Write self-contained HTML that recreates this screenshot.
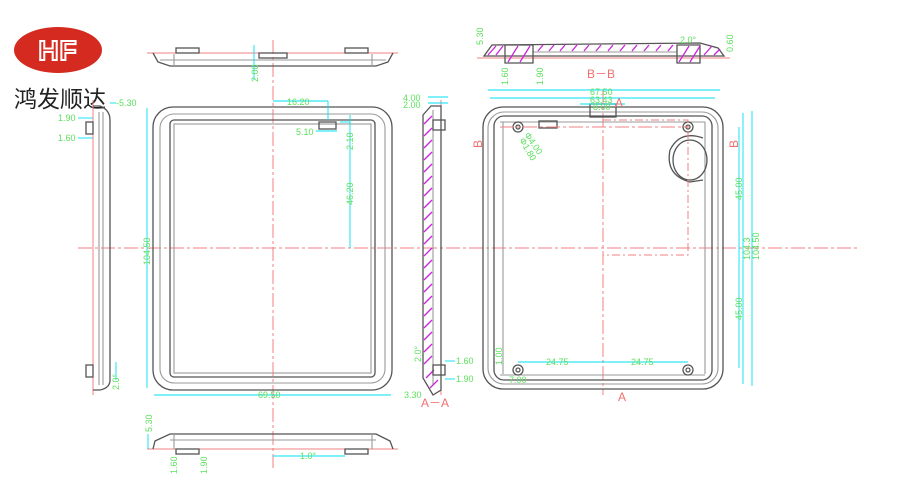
<!DOCTYPE html>
<html><head><meta charset="utf-8"><style>
html,body{margin:0;padding:0;background:#fff;}
svg{display:block;}
.o{fill:none;stroke:#555;stroke-width:1.3}
.l{fill:none;stroke:#999;stroke-width:1.1}
.r{fill:none;stroke:#f08080;stroke-width:1}
.rd{fill:none;stroke:#f08080;stroke-width:1;stroke-dasharray:14 3 3 3}
.c{fill:none;stroke:#00e0f0;stroke-width:0.9}
.g{fill:#5ee05e;font-family:"Liberation Sans",sans-serif;font-size:9px}
.rt{fill:#f07070;font-family:"Liberation Sans",sans-serif;font-size:12px}
.h{stroke:#cc22dd;stroke-width:1.3}
</style></head><body>
<svg width="900" height="500" viewBox="0 0 900 500" xmlns="http://www.w3.org/2000/svg">
<rect width="900" height="500" fill="#fff"/>
<!-- logo -->
<ellipse cx="58" cy="50" rx="44" ry="23" fill="#d42a1f"/>
<text x="58" y="60" text-anchor="middle" font-family="Liberation Sans,sans-serif" font-size="28" font-weight="bold" fill="none" stroke="#fff" stroke-width="2" letter-spacing="1">HF</text>
<text x="14" y="107" font-family="Liberation Sans,'Noto Sans CJK SC',sans-serif" font-size="23" fill="#222">鸿发顺达</text>

<!-- centre lines -->
<line x1="78" y1="248" x2="860" y2="248" class="rd"/>
<line x1="273" y1="40" x2="273" y2="470" class="rd"/>
<line x1="603" y1="90" x2="603" y2="395" class="rd"/>

<!-- top view -->
<line x1="147" y1="53" x2="398" y2="53" class="r"/>
<path d="M153 53 L158 62 L170 66 L376 66 L388 62 L393 53" class="o"/>
<line x1="174" y1="54" x2="174" y2="66" class="l"/><line x1="372" y1="54" x2="372" y2="66" class="l"/>
<line x1="160" y1="60" x2="386" y2="60" class="l"/>
<rect x="176" y="48" width="23" height="5" class="o"/><rect x="345" y="48" width="23" height="5" class="o"/>
<rect x="259" y="53" width="28" height="5" class="o"/>
<line x1="254" y1="45" x2="254" y2="80" class="c"/>
<text class="g" transform="translate(258,82) rotate(-90)">2.00</text>

<!-- left side view -->
<line x1="93" y1="100" x2="93" y2="395" class="r"/>
<path d="M93 106 L100 106 Q110 110 110 120 L110 380 Q110 388 100 390 L93 390" class="o"/>
<line x1="99" y1="112" x2="99" y2="385" class="l"/><line x1="103" y1="112" x2="103" y2="385" class="l"/>
<rect x="86" y="122" width="7" height="12" class="o"/><rect x="86" y="365" width="7" height="12" class="o"/>
<line x1="110" y1="103" x2="116" y2="103" class="c"/>
<text class="g" x="116" y="106">-5.30</text>
<text class="g" x="58" y="121">1.90</text><line x1="78" y1="118" x2="93" y2="118" class="c"/>
<text class="g" x="58" y="141">1.60</text><line x1="78" y1="138" x2="93" y2="138" class="c"/>
<line x1="116" y1="362" x2="116" y2="380" class="c"/>
<text class="g" transform="translate(119,390) rotate(-90)">2.0°</text>

<!-- front view -->
<rect x="153" y="107" width="239" height="283" rx="20" class="o"/>
<rect x="160" y="114" width="225" height="269" rx="14" class="l"/>
<rect x="170" y="120" width="205" height="257" rx="4" class="o"/>
<rect x="174" y="124" width="197" height="249" class="l"/>
<line x1="147" y1="108" x2="147" y2="388" class="c"/>
<text class="g" transform="translate(150,265) rotate(-90)">104.50</text>
<line x1="154" y1="395" x2="391" y2="395" class="c"/>
<text class="g" x="258" y="398">69.50</text>
<line x1="273" y1="101" x2="328" y2="101" class="c"/><line x1="328" y1="101" x2="328" y2="120" class="c"/>
<text class="g" x="287" y="105">16.20</text>
<rect x="319" y="122" width="17" height="7" class="o"/>
<line x1="316" y1="131" x2="337" y2="131" class="c"/>
<text class="g" x="296" y="135">5.10</text>
<line x1="340" y1="122" x2="350" y2="122" class="c"/>
<line x1="350" y1="115" x2="350" y2="248" class="c"/>
<text class="g" transform="translate(353,150) rotate(-90)">2.10</text>
<text class="g" transform="translate(353,205) rotate(-90)">46.20</text>

<!-- A-A section -->
<line x1="441" y1="100" x2="441" y2="395" class="r"/>
<path d="M423 115 L431 106 L441 106 L441 390 L433 395 L423 378 Z" class="o"/>
<line x1="433" y1="110" x2="433" y2="385" class="l"/>
<g class="h">
<line x1="424" y1="124" x2="432" y2="116"/><line x1="424" y1="136" x2="432" y2="128"/><line x1="424" y1="148" x2="432" y2="140"/><line x1="424" y1="160" x2="432" y2="152"/><line x1="424" y1="172" x2="432" y2="164"/><line x1="424" y1="184" x2="432" y2="176"/><line x1="424" y1="196" x2="432" y2="188"/><line x1="424" y1="208" x2="432" y2="200"/><line x1="424" y1="220" x2="432" y2="212"/><line x1="424" y1="232" x2="432" y2="224"/><line x1="424" y1="244" x2="432" y2="236"/><line x1="424" y1="256" x2="432" y2="248"/><line x1="424" y1="268" x2="432" y2="260"/><line x1="424" y1="280" x2="432" y2="272"/><line x1="424" y1="292" x2="432" y2="284"/><line x1="424" y1="304" x2="432" y2="296"/><line x1="424" y1="316" x2="432" y2="308"/><line x1="424" y1="328" x2="432" y2="320"/><line x1="424" y1="340" x2="432" y2="332"/><line x1="424" y1="352" x2="432" y2="344"/><line x1="424" y1="364" x2="432" y2="356"/><line x1="426" y1="378" x2="434" y2="370"/><line x1="430" y1="388" x2="438" y2="380"/>
</g>
<rect x="433" y="120" width="12" height="10" class="o"/><rect x="433" y="365" width="12" height="10" class="o"/>
<line x1="428" y1="97" x2="448" y2="97" class="c"/><line x1="428" y1="103" x2="448" y2="103" class="c"/>
<text class="g" x="403" y="101">4.00</text><text class="g" x="403" y="108">2.00</text>
<text class="g" transform="translate(421,362) rotate(-90)">2.0°</text>
<line x1="445" y1="361" x2="455" y2="361" class="c"/><text class="g" x="456" y="364">1.60</text>
<line x1="445" y1="379" x2="455" y2="379" class="c"/><text class="g" x="456" y="382">1.90</text>
<text class="g" x="404" y="398">3.30</text>
<text class="rt" x="421" y="407">A－A</text>

<!-- bottom view -->
<line x1="147" y1="449" x2="398" y2="449" class="r"/>
<path d="M153 449 L155 441 L170 434 L376 434 L390 441 L393 449" class="o"/>
<line x1="174" y1="435" x2="174" y2="449" class="l"/><line x1="372" y1="435" x2="372" y2="449" class="l"/>
<line x1="170" y1="440" x2="376" y2="440" class="l"/>
<rect x="176" y="449" width="23" height="5" class="o"/><rect x="345" y="449" width="23" height="5" class="o"/>
<line x1="148" y1="434" x2="148" y2="449" class="c"/>
<text class="g" transform="translate(152,432) rotate(-90)">5.30</text>
<text class="g" transform="translate(177,474) rotate(-90)">1.60</text>
<text class="g" transform="translate(207,474) rotate(-90)">1.90</text>
<line x1="273" y1="456" x2="345" y2="456" class="c"/><text class="g" x="300" y="459">1.0°</text>

<!-- B-B section -->
<line x1="477" y1="58" x2="730" y2="58" class="r"/>
<path d="M484 56 L492 45 L700 43 L718 48 L724 56 L484 56 Z" class="o"/>
<line x1="533" y1="52" x2="677" y2="52" class="l"/>
<path d="M505 45 L533 45 L533 63 L505 63 Z M677 45 L700 45 L700 63 L677 63 Z" class="o"/>
<g class="h">
<line x1="488" y1="55" x2="496" y2="46"/><line x1="496" y1="55" x2="503" y2="46"/><line x1="508" y1="62" x2="518" y2="46"/><line x1="520" y1="62" x2="530" y2="46"/>
<line x1="538" y1="51" x2="543" y2="45"/><line x1="549" y1="51" x2="554" y2="45"/><line x1="560" y1="51" x2="565" y2="45"/><line x1="572" y1="51" x2="577" y2="45"/><line x1="584" y1="51" x2="589" y2="45"/><line x1="596" y1="51" x2="601" y2="45"/><line x1="608" y1="51" x2="613" y2="45"/><line x1="620" y1="51" x2="625" y2="45"/><line x1="632" y1="51" x2="637" y2="45"/><line x1="644" y1="51" x2="649" y2="45"/><line x1="656" y1="51" x2="661" y2="45"/><line x1="668" y1="51" x2="673" y2="45"/>
<line x1="679" y1="62" x2="689" y2="46"/><line x1="690" y1="62" x2="700" y2="46"/><line x1="704" y1="55" x2="712" y2="46"/><line x1="714" y1="55" x2="720" y2="49"/>
</g>
<text class="g" transform="translate(483,45) rotate(-90)">5.30</text>
<text class="g" transform="translate(508,85) rotate(-90)">1.60</text>
<text class="g" transform="translate(543,85) rotate(-90)">1.90</text>
<text class="g" x="680" y="43">2.0°</text>
<text class="g" transform="translate(733,52) rotate(-90)">0.60</text>
<text class="rt" x="587" y="78">B－B</text>

<!-- right front view -->
<rect x="483" y="107" width="240" height="282" rx="20" class="o"/>
<rect x="488" y="112" width="230" height="272" rx="16" class="l"/>
<rect x="494" y="116" width="218" height="264" rx="10" class="o"/>
<line x1="503" y1="122" x2="503" y2="374" class="l"/><line x1="705" y1="122" x2="705" y2="374" class="l"/>
<line x1="500" y1="122" x2="705" y2="122" class="l"/><line x1="500" y1="375" x2="705" y2="375" class="l"/>
<rect x="590" y="104" width="26" height="13" class="o"/>
<rect x="539" y="121" width="18" height="7" class="o"/>
<circle cx="518" cy="127" r="5" class="o"/><circle cx="518" cy="127" r="2" class="o"/>
<circle cx="688" cy="127" r="5" class="o"/><circle cx="688" cy="127" r="2" class="o"/>
<circle cx="518" cy="370" r="5" class="o"/><circle cx="518" cy="370" r="2" class="o"/>
<circle cx="688" cy="370" r="5" class="o"/><circle cx="688" cy="370" r="2" class="o"/>
<path d="M703 138 Q680 130 670 150 Q665 175 690 182 L703 180" class="o"/>
<ellipse cx="690" cy="160" rx="17" ry="20" class="o"/>
<path d="M500 127 L688 127" class="rd"/>
<path d="M603 120 L688 120 L688 255 L603 255" class="r" stroke-dasharray="8 3 2 3"/>
<line x1="488" y1="90" x2="720" y2="90" class="c"/><text class="g" x="590" y="95">67.50</text>
<line x1="490" y1="98" x2="715" y2="98" class="c"/><text class="g" x="590" y="103">63.43</text>
<line x1="580" y1="104" x2="625" y2="104" class="c"/><text class="g" x="593" y="110">8.00</text>
<text class="rt" x="615" y="107">A</text>
<text class="rt" x="618" y="401">A</text>
<text class="rt" transform="translate(482,148) rotate(-90)">B</text>
<text class="rt" transform="translate(738,148) rotate(-90)">B</text>
<text class="g" transform="translate(524,135) rotate(55)">Φ4.00</text>
<text class="g" transform="translate(519,140) rotate(60)">Φ1.80</text>
<line x1="739" y1="127" x2="739" y2="368" class="c"/>
<line x1="743" y1="113" x2="743" y2="384" class="c"/>
<line x1="752" y1="111" x2="752" y2="386" class="c"/>
<text class="g" transform="translate(742,200) rotate(-90)">45.00</text>
<text class="g" transform="translate(742,320) rotate(-90)">45.00</text>
<text class="g" transform="translate(750,260) rotate(-90)">104.3</text>
<text class="g" transform="translate(759,260) rotate(-90)">104.50</text>
<line x1="518" y1="362" x2="688" y2="362" class="c"/>
<text class="g" x="546" y="365">24.75</text><text class="g" x="631" y="365">24.75</text>
<text class="g" x="509" y="383">7.00</text>
<text class="g" transform="translate(502,365) rotate(-90)">1.00</text>
</svg>
</body></html>
